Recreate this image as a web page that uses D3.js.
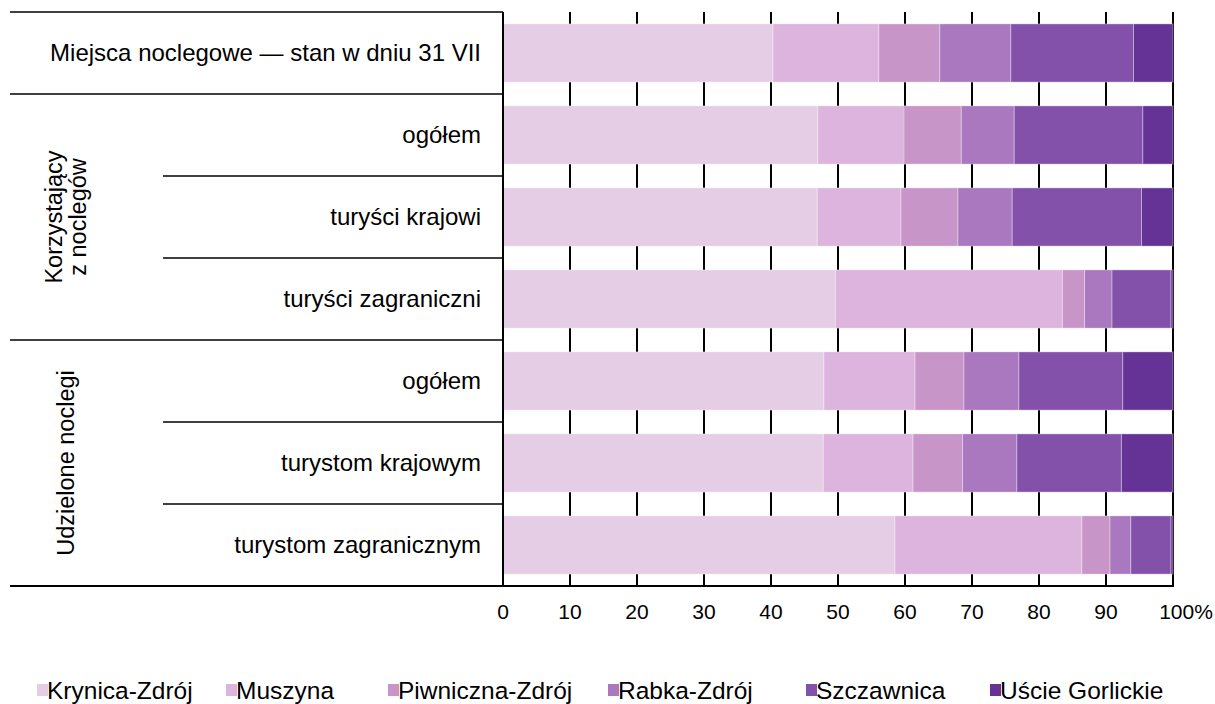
<!DOCTYPE html>
<html>
<head>
<meta charset="utf-8">
<script src="https://cdn.jsdelivr.net/npm/d3@7/dist/d3.min.js"></script>
<style>
  body { margin: 0; background: #fff; }
  text { font-family: "Liberation Sans", Arial, sans-serif; fill: #000; }
</style>
</head>
<body>
<svg width="1215" height="704"></svg>
<script>
// rows, top to bottom
const rows = ['Miejsca noclegowe — stan w dniu 31 VII', 'ogółem', 'turyści krajowi', 'turyści zagraniczni',
  'ogółem', 'turystom krajowym', 'turystom zagranicznym']
const towns = ['Krynica-Zdrój', 'Muszyna', 'Piwniczna-Zdrój', 'Rabka-Zdrój', 'Szczawnica', 'Uście Gorlickie']
const colors = ['#e5cde5', '#ddb4dd', '#c895c8', '#a978be', '#8351aa', '#653396']

// shares (%) per town, one array per row
const krynica = [40.3, 47.0, 46.9, 49.6, 47.9, 47.8, 58.5]
const muszyna = [15.8, 12.9, 12.5, 33.9, 13.6, 13.4, 27.9]
const piwniczna = [9.1, 8.5, 8.5, 3.3, 7.3, 7.4, 4.2]
const rabka = [10.6, 7.9, 8.1, 4.1, 8.2, 8.1, 3.1]
const szczawnica = [18.3, 19.2, 19.3, 8.8, 15.5, 15.6, 6.0]
const uscie = [5.9, 4.5, 4.7, 0.3, 7.5, 7.7, 0.3]

const ticks = [0, 10, 20, 30, 40, 50, 60, 70, 80, 90, 100]
const groups = [
  { lines: ['Korzystający', 'z noclegów'], from: 1, to: 3 },
  { lines: ['Udzielone noclegi'], from: 4, to: 6 }
]

const svg = d3.select('svg')
const x0 = 503, x1 = 1173, y0 = 12, y1 = 586

const xScale = d3.scaleLinear().domain([0, 100]).range([x0, x1])
const yScale = d3.scaleBand().domain(d3.range(rows.length)).range([y0, y1]).paddingInner(0.29).paddingOuter(0.145)

const series = [krynica, muszyna, piwniczna, rabka, szczawnica, uscie]
const table = rows.map((r, i) => {
  const o = { i: i }
  towns.forEach((t, k) => { o[t] = series[k][i] })
  return o
})
const stacked = d3.stack().keys(towns)(table)

// vertical gridlines (drawn under the bars)
svg.append('g')
  .selectAll('line')
  .data(ticks)
  .join('line')
  .attr('x1', d => xScale(d)).attr('x2', d => xScale(d))
  .attr('y1', y0).attr('y2', y1)
  .style('stroke', '#000')
  .style('stroke-width', 2)

// bars
svg.append('g')
  .selectAll('g')
  .data(stacked)
  .join('g')
  .style('fill', (d, k) => colors[k])
  .selectAll('rect')
  .data(d => d)
  .join('rect')
  .attr('x', d => xScale(d[0]))
  .attr('width', d => xScale(d[1]) - xScale(d[0]))
  .attr('y', d => yScale(d.data.i))
  .attr('height', yScale.bandwidth())
  .style('stroke', 'rgba(255,255,255,0.35)')
  .style('stroke-width', 1)

// axes lines
const step = yScale.step()
const bound = i => y0 + i * step
svg.append('line').attr('x1', x0).attr('x2', x0).attr('y1', y0).attr('y2', y1)
  .style('stroke', '#000').style('stroke-width', 2)
svg.append('line').attr('x1', 10).attr('x2', x1 + 1).attr('y1', y1).attr('y2', y1)
  .style('stroke', '#000').style('stroke-width', 2)

// category separators on the left
const fullLines = [0, 1, 4]
const subLines = [2, 3, 5, 6]
svg.append('g').selectAll('line')
  .data(fullLines)
  .join('line')
  .attr('x1', 10).attr('x2', x0)
  .attr('y1', d => bound(d)).attr('y2', d => bound(d))
  .style('stroke', '#000').style('stroke-width', 1.5)
svg.append('g').selectAll('line')
  .data(subLines)
  .join('line')
  .attr('x1', 163).attr('x2', x0)
  .attr('y1', d => bound(d)).attr('y2', d => bound(d))
  .style('stroke', '#000').style('stroke-width', 1.5)

// row labels
svg.append('g').selectAll('text')
  .data(rows)
  .join('text')
  .attr('x', 481)
  .attr('y', (d, i) => yScale(i) + yScale.bandwidth() / 2)
  .attr('dy', '0.35em')
  .style('text-anchor', 'end')
  .style('font-size', '24px')
  .text(d => d)

// group labels (rotated)
groups.forEach(g => {
  const cy = (bound(g.from) + bound(g.to + 1)) / 2
  const cx = 66
  const t = svg.append('text')
    .attr('transform', `translate(${cx},${cy}) rotate(-90)`)
    .style('text-anchor', 'middle')
    .style('font-size', '23.5px')
  const n = g.lines.length
  g.lines.forEach((l, j) => {
    t.append('tspan')
      .attr('x', 0)
      .attr('y', (j - (n - 1) / 2) * 24)
      .attr('dy', '0.35em')
      .text(l)
  })
})

// tick labels
svg.append('g').selectAll('text')
  .data(ticks)
  .join('text')
  .attr('x', d => xScale(d) + (d === 100 ? 13 : 0))
  .attr('y', 612)
  .attr('dy', '0.35em')
  .style('text-anchor', 'middle')
  .style('font-size', '21px')
  .text(d => d === 100 ? '100%' : d)

// legend
const legendX = [37, 226, 388, 608, 806, 990]
const legend = svg.append('g').selectAll('g')
  .data(towns)
  .join('g')
  .attr('transform', (d, k) => `translate(${legendX[k]},690)`)
legend.append('rect')
  .attr('x', 0).attr('y', -6)
  .attr('width', 11).attr('height', 12)
  .style('fill', (d, k) => colors[k])
legend.append('text')
  .attr('x', 10)
  .attr('dy', '0.35em')
  .style('font-size', '24.5px')
  .text(d => d)
</script>
</body>
</html>
